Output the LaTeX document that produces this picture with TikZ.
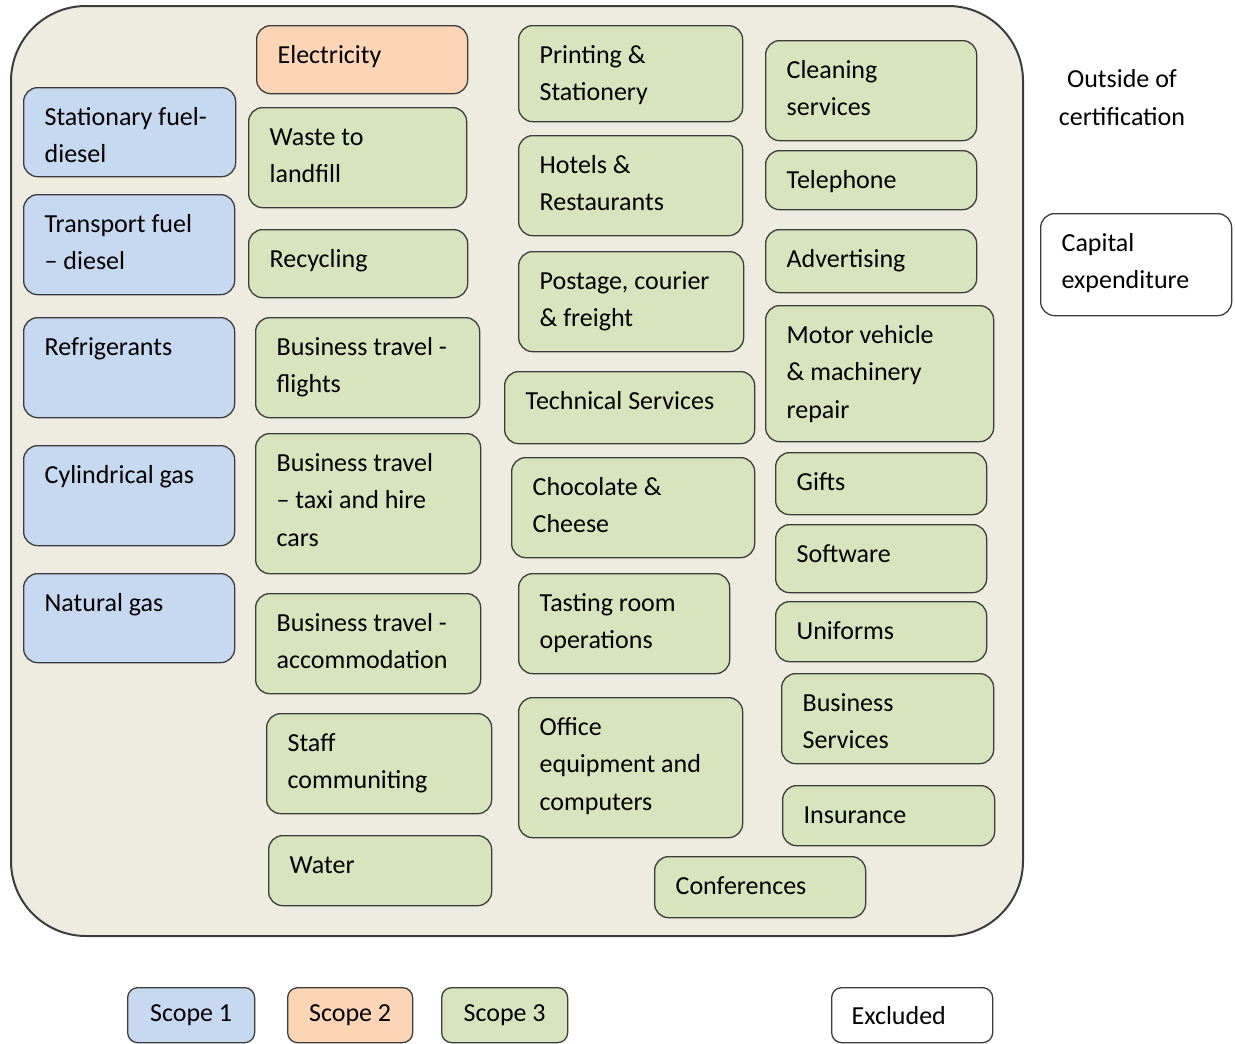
\documentclass[tikz,border=0pt]{standalone}
\usepackage{fontspec}
\setmainfont{Carlito}
\usepackage{xcolor}
\usepackage{tikz}
\usetikzlibrary{positioning}
\definecolor{scopeblue}{RGB}{198, 217, 241}
\definecolor{scopeorange}{RGB}{251, 213, 181}
\definecolor{scopegreen}{RGB}{215, 228, 189}
\definecolor{certbg}{RGB}{238, 236, 225}
\definecolor{boxline}{RGB}{60, 60, 60}

% text sits at the top left of each box
\newcommand{\toptext}[3]{\parbox[t][#2pt][t]{\dimexpr#1pt-42pt\relax}{\raggedright\rule{0pt}{37.5pt}#3}}

\begin{document}
\begin{tikzpicture}[
    x=1pt, y=-1pt,
    catbox/.style={draw=boxline, line width=1.3pt, rounded corners=14pt, anchor=north west, inner xsep=21pt, inner ysep=0pt, font=\fontsize{26}{37.5}\selectfont},
    scopeone/.style={catbox, fill=scopeblue},
    scopetwo/.style={catbox, fill=scopeorange},
    scopethree/.style={catbox, fill=scopegreen},
    excluded/.style={catbox, fill=white},
    legendbox/.style={draw=boxline, line width=1.3pt, rounded corners=10pt, anchor=north west, inner sep=0pt, minimum height=55pt, font=\fontsize{26}{30}\selectfont},
    container/.style={draw=boxline, line width=2pt, fill=certbg, rounded corners=75pt, anchor=north west, inner sep=0pt}
]
\useasboundingbox (0,0) rectangle (1235,1044);

% certification boundary
\node[container, minimum width=1012pt, minimum height=930pt] (certified) at (10,5) {};

% scope 1
\node[scopeone] (stationary) at (23,87) {\toptext{212}{89}{Stationary fuel-\\diesel}};
\node[scopeone] (transport) at (23,194) {\toptext{211}{100}{Transport fuel\\– diesel}};
\node[scopeone] (refrig) at (23,317) {\toptext{211}{100}{Refrigerants}};
\node[scopeone] (cylgas) at (23,445) {\toptext{211}{100}{Cylindrical gas}};
\node[scopeone] (natgas) at (23,573) {\toptext{211}{89}{Natural gas}};

% scope 2
\node[scopetwo] (electricity) at (256,25) {\toptext{211}{68}{Electricity}};

% scope 3, second column
\node[scopethree] (waste) at (248,107) {\toptext{218}{100}{Waste to\\landfill}};
\node[scopethree] (recycling) at (248,229) {\toptext{219}{68}{Recycling}};
\node[scopethree] (btflights) at (255,317) {\toptext{224}{100}{Business travel -\\flights}};
\node[scopethree] (bttaxi) at (255,433) {\toptext{225}{140}{Business travel\\– taxi and hire\\cars}};
\node[scopethree] (btaccom) at (255,593) {\toptext{225}{100}{Business travel -\\accommodation}};
\node[scopethree] (staff) at (266,713) {\toptext{225}{100}{Staff\\communiting}};
\node[scopethree] (water) at (268,835) {\toptext{223}{70}{Water}};

% scope 3, third column
\node[scopethree] (printing) at (518,25) {\toptext{224}{96}{Printing \&\\Stationery}};
\node[scopethree] (hotels) at (518,135) {\toptext{224}{100}{Hotels \&\\Restaurants}};
\node[scopethree] (postage) at (518,251) {\toptext{225}{100}{Postage, courier\\\& freight}};
\node[scopethree] (technical) at (504,371) {\toptext{250}{72}{Technical Services}};
\node[scopethree] (chocolate) at (511,457) {\toptext{243}{100}{Chocolate \&\\Cheese}};
\node[scopethree] (tasting) at (518,573) {\toptext{211}{100}{Tasting room\\operations}};
\node[scopethree] (office) at (518,697) {\toptext{224}{140}{Office\\equipment and\\computers}};
\node[scopethree] (conferences) at (654,856) {\toptext{211}{61}{Conferences}};

% scope 3, fourth column
\node[scopethree] (cleaning) at (765,40) {\toptext{211}{100}{Cleaning\\services}};
\node[scopethree] (telephone) at (765,150) {\toptext{211}{59}{Telephone}};
\node[scopethree] (advertising) at (765,229) {\toptext{211}{63}{Advertising}};
\node[scopethree] (motor) at (765,305) {\toptext{228}{136}{Motor vehicle\\\& machinery\\repair}};
\node[scopethree] (gifts) at (775,452) {\toptext{211}{62}{Gifts}};
\node[scopethree] (software) at (775,524) {\toptext{211}{68}{Software}};
\node[scopethree] (uniforms) at (775,601) {\toptext{211}{60}{Uniforms}};
\node[scopethree] (busserv) at (781,673) {\toptext{212}{90}{Business\\Services}};
\node[scopethree] (insurance) at (782,785) {\toptext{212}{60}{Insurance}};

% outside of certification
\node[align=center, font=\fontsize{26}{38}\selectfont] (outside) at (1122,98) {Outside of\\certification};
\node[excluded] (capex) at (1040,213) {\toptext{191}{102}{Capital\\expenditure}};

% legend
\node[legendbox, fill=scopeblue, minimum width=127pt] (legone) at (127,987) {Scope 1};
\node[legendbox, fill=scopeorange, minimum width=125pt] (legtwo) at (287,987) {Scope 2};
\node[legendbox, fill=scopegreen, minimum width=126pt] (legthree) at (441,987) {Scope 3};
\node[legendbox, fill=white, minimum width=161pt] (legexcl) at (831,987) {\makebox[121pt][l]{Excluded}};
\end{tikzpicture}
\end{document}
